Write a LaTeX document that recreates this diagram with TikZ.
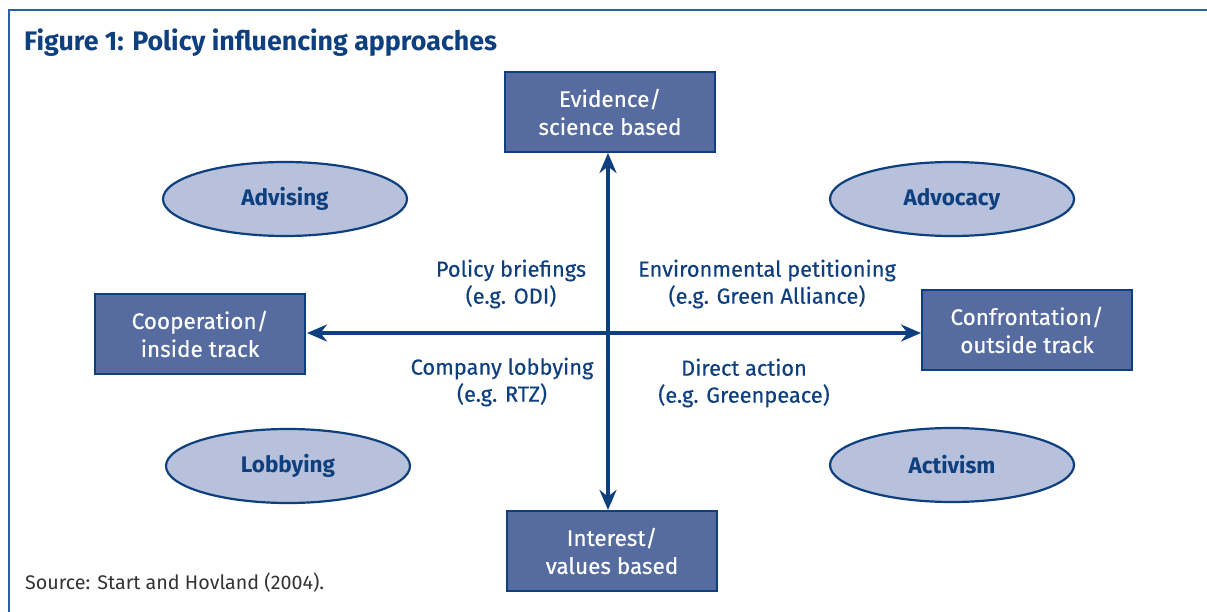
\documentclass[tikz,border=0pt]{standalone}
\usepackage{fontspec}
\setmainfont{Fira Sans}
\newfontfamily\medfont{Fira Sans}[FakeBold=0.35]
\usetikzlibrary{shapes.geometric,arrows.meta}
\definecolor{dblue}{HTML}{0E3F7E}
\definecolor{boxfill}{HTML}{566CA0}
\definecolor{ellfill}{HTML}{B7C1DC}
\definecolor{frame}{HTML}{2E5FA0}
\tikzset{
  sqbox/.style={draw=dblue, line width=2.5pt, fill=boxfill, text=white, minimum width=210pt, minimum height=80pt, align=center, font=\medfont\fontsize{22.5}{28}\selectfont, inner sep=0pt},
  oval/.style={ellipse, draw=dblue, line width=2.2pt, fill=ellfill, text=dblue, minimum width=244pt, minimum height=74pt, font=\fontsize{22.5}{24}\selectfont\bfseries, inner sep=0pt},
  lbl/.style={text=dblue, align=center, font=\medfont\fontsize{21.8}{27}\selectfont, inner sep=0pt},
  axis/.style={draw=dblue, line width=3.6pt, {Stealth[length=20pt,width=17pt]}-{Stealth[length=20pt,width=17pt]}}
}
\begin{document}
\begin{tikzpicture}[x=1pt,y=-1pt]
\useasboundingbox (0,0) rectangle (1207,612);
\fill[white] (0,0) rectangle (1207,612);
\draw[frame, line width=2pt] (9,612) -- (9,10) -- (1207,10);
\node[anchor=base west, text=dblue, font=\fontsize{26.8}{30}\selectfont\bfseries, inner sep=0pt] (title) at (24,51) {Figure 1: Policy influencing approaches};
\node[sqbox] (top) at (610,112) {Evidence/\\science based};
\node[sqbox] (left) at (200,334) {Cooperation/\\inside track};
\node[sqbox] (right) at (1027,330) {Confrontation/\\outside track};
\node[sqbox] (bot) at (612,551) {Interest/\\values based};
\coordinate (vt) at (608,153);
\coordinate (vb) at (608,510);
\coordinate (hl) at (307,333);
\coordinate (hr) at (921,333);
\draw[axis] (vt) -- (vb);
\draw[axis] (hl) -- (hr);
\node[oval] (adv) at (285,199) {Advising};
\node[oval] (advo) at (952,199) {Advocacy};
\node[oval] (lob) at (288,466) {Lobbying};
\node[oval] (act) at (952,465) {Activism};
\node[lbl] (pb) at (511,284) {Policy briefings\\(e.g. ODI)};
\node[lbl] (ep) at (767,284) {Environmental petitioning\\(e.g. Green Alliance)};
\node[lbl] (cl) at (502,382) {Company lobbying\\(e.g. RTZ)};
\node[lbl] (da) at (744,383) {Direct action\\(e.g. Greenpeace)};
\node[anchor=base west, text=black!80, font=\fontsize{19.7}{22}\selectfont, inner sep=0pt] (src) at (25,589) {Source: Start and Hovland (2004).};
\end{tikzpicture}
\end{document}
